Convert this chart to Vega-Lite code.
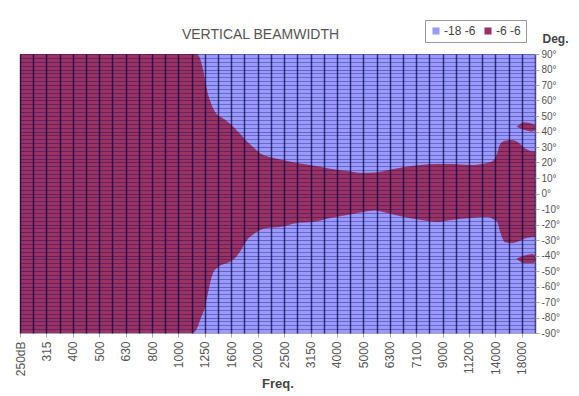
{
  "$schema": "https://vega.github.io/schema/vega-lite/v6.json",
  "width": 515,
  "height": 279,
  "autosize": {"type": "none"},
  "padding": {"left": 20, "top": 54, "right": 44, "bottom": 63},
  "background": "white",
  "config": {
    "font": "Liberation Sans",
    "view": {"stroke": null}
  },
  "title": {
    "text": "VERTICAL BEAMWIDTH",
    "fontSize": 14,
    "fontWeight": "normal",
    "color": "#555555",
    "anchor": "middle",
    "frame": "group",
    "dx": -17,
    "offset": -22
  },
  "datasets": {
    "regions": [
      {"level": "-18 -6", "part": "bg", "band": 0, "top": 90, "bottom": -90},
      {"level": "-18 -6", "part": "bg", "band": 39, "top": 90, "bottom": -90},
      {"level": "-6 -6", "part": "main", "band": 0, "top": 90, "bottom": -90},
      {"level": "-6 -6", "part": "main", "band": 13.11, "top": 90, "bottom": -90},
      {"level": "-6 -6", "part": "main", "band": 13.41, "top": 90, "bottom": -87},
      {"level": "-6 -6", "part": "main", "band": 13.64, "top": 87, "bottom": -81.6},
      {"level": "-6 -6", "part": "main", "band": 13.86, "top": 80, "bottom": -77},
      {"level": "-6 -6", "part": "main", "band": 14.02, "top": 73, "bottom": -73},
      {"level": "-6 -6", "part": "main", "band": 14.24, "top": 64, "bottom": -64},
      {"level": "-6 -6", "part": "main", "band": 14.39, "top": 60, "bottom": -58},
      {"level": "-6 -6", "part": "main", "band": 14.62, "top": 55, "bottom": -51.3},
      {"level": "-6 -6", "part": "main", "band": 14.92, "top": 51, "bottom": -48},
      {"level": "-6 -6", "part": "main", "band": 15.3, "top": 49, "bottom": -46},
      {"level": "-6 -6", "part": "main", "band": 15.91, "top": 45, "bottom": -44},
      {"level": "-6 -6", "part": "main", "band": 16.29, "top": 42, "bottom": -41.6},
      {"level": "-6 -6", "part": "main", "band": 16.67, "top": 38.5, "bottom": -37.4},
      {"level": "-6 -6", "part": "main", "band": 17.2, "top": 33.5, "bottom": -30},
      {"level": "-6 -6", "part": "main", "band": 17.65, "top": 30, "bottom": -26.5},
      {"level": "-6 -6", "part": "main", "band": 18.18, "top": 26, "bottom": -23.6},
      {"level": "-6 -6", "part": "main", "band": 18.71, "top": 24, "bottom": -22.3},
      {"level": "-6 -6", "part": "main", "band": 19.7, "top": 22, "bottom": -21.6},
      {"level": "-6 -6", "part": "main", "band": 20.98, "top": 19.7, "bottom": -19},
      {"level": "-6 -6", "part": "main", "band": 22.2, "top": 18, "bottom": -18.4},
      {"level": "-6 -6", "part": "main", "band": 23.48, "top": 16, "bottom": -15.8},
      {"level": "-6 -6", "part": "main", "band": 24.77, "top": 14.5, "bottom": -13.9},
      {"level": "-6 -6", "part": "main", "band": 25.98, "top": 13.2, "bottom": -12},
      {"level": "-6 -6", "part": "main", "band": 26.89, "top": 13.5, "bottom": -11},
      {"level": "-6 -6", "part": "main", "band": 27.8, "top": 15, "bottom": -12.6},
      {"level": "-6 -6", "part": "main", "band": 29.02, "top": 17, "bottom": -15},
      {"level": "-6 -6", "part": "main", "band": 30.3, "top": 18.4, "bottom": -17},
      {"level": "-6 -6", "part": "main", "band": 31.59, "top": 19, "bottom": -18.4},
      {"level": "-6 -6", "part": "main", "band": 32.8, "top": 19, "bottom": -17},
      {"level": "-6 -6", "part": "main", "band": 34.09, "top": 18.4, "bottom": -15.8},
      {"level": "-6 -6", "part": "main", "band": 35.38, "top": 19.7, "bottom": -15.2},
      {"level": "-6 -6", "part": "main", "band": 35.91, "top": 22, "bottom": -17},
      {"level": "-6 -6", "part": "main", "band": 36.14, "top": 26, "bottom": -18.4},
      {"level": "-6 -6", "part": "main", "band": 36.36, "top": 32, "bottom": -25},
      {"level": "-6 -6", "part": "main", "band": 36.74, "top": 34, "bottom": -31.5},
      {"level": "-6 -6", "part": "main", "band": 37.27, "top": 34.5, "bottom": -32},
      {"level": "-6 -6", "part": "main", "band": 37.73, "top": 33, "bottom": -31},
      {"level": "-6 -6", "part": "main", "band": 38.11, "top": 30, "bottom": -29.5},
      {"level": "-6 -6", "part": "main", "band": 38.48, "top": 28, "bottom": -28.6},
      {"level": "-6 -6", "part": "main", "band": 39, "top": 27, "bottom": -28},
      {"level": "-6 -6", "part": "isl1", "band": 37.6, "top": 43, "bottom": 43},
      {"level": "-6 -6", "part": "isl1", "band": 38.2, "top": 46, "bottom": 41},
      {"level": "-6 -6", "part": "isl1", "band": 38.8, "top": 45, "bottom": 40},
      {"level": "-6 -6", "part": "isl1", "band": 39, "top": 44, "bottom": 41},
      {"level": "-6 -6", "part": "isl2", "band": 37.6, "top": -42, "bottom": -42},
      {"level": "-6 -6", "part": "isl2", "band": 38.2, "top": -40, "bottom": -45},
      {"level": "-6 -6", "part": "isl2", "band": 38.8, "top": -39, "bottom": -45},
      {"level": "-6 -6", "part": "isl2", "band": 39, "top": -40, "bottom": -44}
    ]
  },
  "data": {"name": "regions"},
  "resolve": {"axis": {"x": "independent", "y": "independent"}},
  "layer": [
    {
      "transform": [{"filter": "datum.level === '-18 -6'"}],
      "mark": {"type": "area", "opacity": 1},
      "encoding": {
        "x": {
          "field": "band",
          "type": "quantitative",
          "scale": {"domain": [0, 39], "nice": false, "zero": false},
          "axis": {
            "orient": "bottom",
            "values": [0, 2, 4, 6, 8, 10, 12, 14, 16, 18, 20, 22, 24, 26, 28, 30, 32, 34, 36, 38],
            "labelExpr": "['250dB','315','400','500','630','800','1000','1250','1600','2000','2500','3150','4000','5000','6300','7100','9000','11200','14000','18000'][datum.value/2]",
            "labelAngle": -90,
            "labelFontSize": 12,
            "labelColor": "#555555",
            "labelPadding": 4,
            "tickSize": 4,
            "tickColor": "#aaaaaa",
            "domain": false,
            "grid": false,
            "title": "Freq.",
            "titleFontSize": 13,
            "titleFontWeight": "bold",
            "titleColor": "#444444",
            "titlePadding": 2
          }
        },
        "y": {
          "field": "top",
          "type": "quantitative",
          "scale": {"domain": [-90, 90], "nice": false, "zero": false},
          "axis": {
            "orient": "right",
            "values": [-90, -80, -70, -60, -50, -40, -30, -20, -10, 0, 10, 20, 30, 40, 50, 60, 70, 80, 90],
            "labelExpr": "datum.value + '°'",
            "labelFontSize": 10,
            "labelColor": "#555555",
            "labelPadding": 2,
            "tickSize": 4,
            "tickColor": "#aaaaaa",
            "domain": false,
            "grid": true,
            "gridColor": "#000040",
            "gridOpacity": 0.35,
            "gridWidth": 1,
            "zindex": 1,
            "title": "Deg.",
            "titleAngle": 0,
            "titleFontSize": 12,
            "titleFontWeight": "bold",
            "titleColor": "#444444",
            "titleAlign": "left",
            "titleBaseline": "middle",
            "titleX": 7,
            "titleY": -16
          }
        },
        "y2": {"field": "bottom"},
        "color": {
          "field": "level",
          "type": "nominal",
          "scale": {"domain": ["-18 -6", "-6 -6"], "range": ["#9999ff", "#993366"]},
          "legend": {
            "title": null,
            "orient": "none",
            "legendX": 405,
            "legendY": -34,
            "direction": "horizontal",
            "symbolType": "square",
            "symbolSize": 50,
            "symbolStrokeWidth": 0,
            "labelFontSize": 12,
            "labelColor": "#444444",
            "labelOffset": 2,
            "columnPadding": 6,
            "padding": 5,
            "strokeColor": "#999999",
            "fillColor": "white"
          }
        }
      }
    },
    {
      "transform": [{"filter": "datum.level === '-6 -6'"}],
      "mark": {"type": "area", "opacity": 1, "interpolate": "monotone"},
      "encoding": {
        "x": {
          "field": "band",
          "type": "quantitative",
          "axis": {
            "orient": "top",
            "values": [0, 1, 2, 3, 4, 5, 6, 7, 8, 9, 10, 11, 12, 13, 14, 15, 16, 17, 18, 19, 20, 21, 22, 23, 24, 25, 26, 27, 28, 29, 30, 31, 32, 33, 34, 35, 36, 37, 38, 39],
            "labels": false,
            "ticks": false,
            "domain": false,
            "grid": true,
            "gridColor": "#000040",
            "gridOpacity": 0.7,
            "gridWidth": 1.5,
            "zindex": 1,
            "title": null
          }
        },
        "y": {
          "field": "top",
          "type": "quantitative",
          "axis": {
            "orient": "left",
            "values": [-87.5, -85, -82.5, -77.5, -75, -72.5, -67.5, -65, -62.5, -57.5, -55, -52.5, -47.5, -45, -42.5, -37.5, -35, -32.5, -27.5, -25, -22.5, -17.5, -15, -12.5, -7.5, -5, -2.5, 2.5, 5, 7.5, 12.5, 15, 17.5, 22.5, 25, 27.5, 32.5, 35, 37.5, 42.5, 45, 47.5, 52.5, 55, 57.5, 62.5, 65, 67.5, 72.5, 75, 77.5, 82.5, 85, 87.5],
            "labels": false,
            "ticks": false,
            "domain": false,
            "grid": true,
            "gridColor": "#000040",
            "gridOpacity": 0.3,
            "gridWidth": 1,
            "zindex": 1,
            "title": null
          }
        },
        "y2": {"field": "bottom"},
        "detail": {"field": "part", "type": "nominal"},
        "color": {"field": "level", "type": "nominal"}
      }
    }
  ]
}
